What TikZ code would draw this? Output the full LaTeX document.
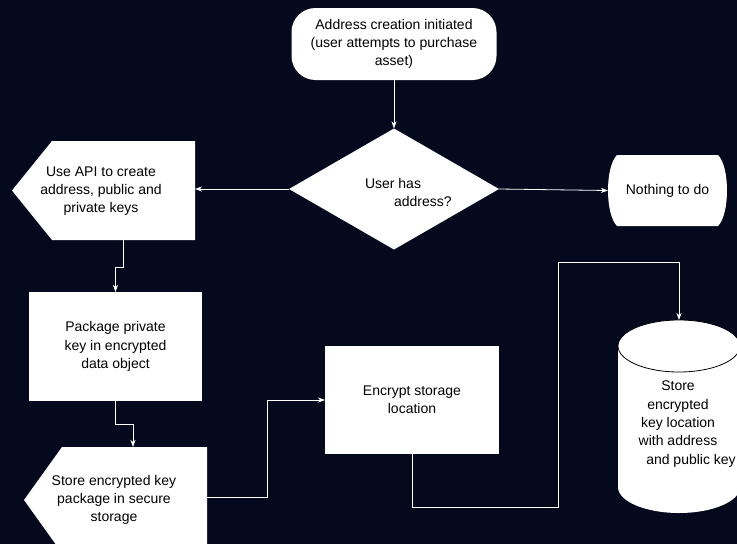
\documentclass[tikz,border=0pt]{standalone}
\usepackage{fontspec}
\setmainfont{Liberation Sans}
\usetikzlibrary{shapes.geometric,arrows.meta}
\definecolor{bgnavy}{RGB}{4,9,30}
\begin{document}
\begin{tikzpicture}[x=1pt,y=-1pt,
  every node/.style={font=\fontsize{14}{18.3}\selectfont, text=black, inner sep=0pt, outer sep=0pt},
  arr/.style={draw=white, line width=0.8pt, -{Stealth[length=7pt,width=5pt,inset=2pt]}},
  whitebox/.style={rectangle, fill=white},
  lbl/.style={align=center}]
\useasboundingbox (0,0) rectangle (737,544);
\fill[bgnavy] (0,0) rectangle (737,544);

% start
\node[whitebox, rounded corners=24pt, minimum width=205pt, minimum height=72pt, lbl] (start) at (394,44) {Address creation initiated\\(user attempts to purchase\\asset)};

% decision
\node[diamond, fill=white, minimum width=210pt, minimum height=121pt] (dia) at (394,189) {};
\node[anchor=west, align=left] (diatext) at (365,192.5) {User has\\\hspace*{29pt}address?};

% nothing to do
\fill[white] (617,155) -- (718,155) .. controls (730,167) and (730,214) .. (718,226)
  -- (617,226) .. controls (605,214) and (605,167) .. (617,155) -- cycle;
\node (none) at (667.5,190.5) {Nothing to do};
\coordinate (noneW) at (608,190.5);

% API pentagon
\fill[white] (52,141) -- (195,141) -- (195,240) -- (52,240) -- (12,190.5) -- cycle;
\node[lbl] (api) at (101,191) {Use API to create\\address, public and\\private keys};
\coordinate (apiE) at (195,189);
\coordinate (apiS) at (123,240);

% package
\node[whitebox, minimum width=173pt, minimum height=109pt, lbl] (pkg) at (115.5,346.5) {Package private\\key in encrypted\\data object};

% store pentagon
\fill[white] (62,447) -- (207,447) -- (207,553) -- (62,553) -- (24,500) -- cycle;
\node[lbl] (store) at (114,500) {Store encrypted key\\package in secure\\storage};
\coordinate (storeN) at (133,447);
\coordinate (storeE) at (207,497);

% encrypt
\node[whitebox, minimum width=174pt, minimum height=108pt, lbl] (enc) at (412,400) {Encrypt storage\\location};

% cylinder
\fill[white] (679,487) ellipse [x radius=61, y radius=26];
\fill[white] (618,346) rectangle (740,487);
\filldraw[fill=white, draw=black, line width=0.8pt] (679,346) ellipse [x radius=61, y radius=26];
\coordinate (cylN) at (679,320);
\node[lbl] (cyl) at (678,424) {Store\\encrypted\\key location\\with address\\\hspace*{26pt}and public key};

% connectors
\draw[arr] (start.south) -- (dia.north);
\draw[arr] (dia.east) -- (noneW);
\draw[arr] (dia.west) -- (apiE);
\draw[arr] (apiS) -- ++(0,27) -| (pkg.north);
\draw[arr] (pkg.south) -- ++(0,23) -| (storeN);
\draw[arr] (storeE) -- (267,497) |- (enc.west);
\draw[arr] (enc.south) -- (412,507) -- (558,507) -- (558,262) -| (cylN);
\end{tikzpicture}
\end{document}
